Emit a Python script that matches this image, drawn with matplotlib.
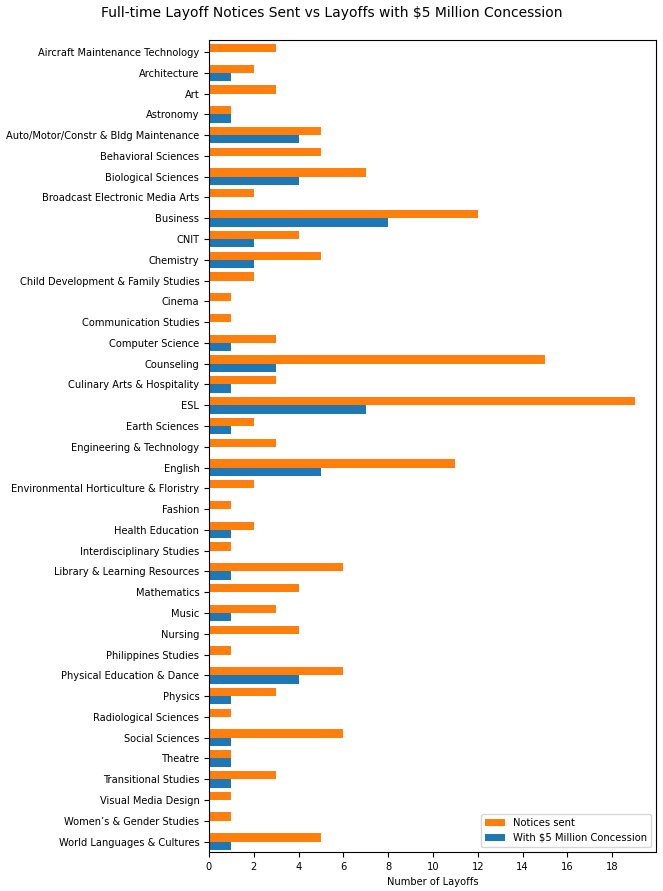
import numpy as np
import matplotlib
matplotlib.use("Agg")
import matplotlib.pyplot as plt

departments = [
    "Aircraft Maintenance Technology", "Architecture", "Art", "Astronomy",
    "Auto/Motor/Constr & Bldg Maintenance", "Behavioral Sciences",
    "Biological Sciences", "Broadcast Electronic Media Arts", "Business",
    "CNIT", "Chemistry", "Child Development & Family Studies", "Cinema",
    "Communication Studies", "Computer Science", "Counseling",
    "Culinary Arts & Hospitality", "ESL", "Earth Sciences",
    "Engineering & Technology", "English",
    "Environmental Horticulture & Floristry", "Fashion", "Health Education",
    "Interdisciplinary Studies", "Library & Learning Resources",
    "Mathematics", "Music", "Nursing", "Philippines Studies",
    "Physical Education & Dance", "Physics", "Radiological Sciences",
    "Social Sciences", "Theatre", "Transitional Studies",
    "Visual Media Design", "Women\u2019s & Gender Studies",
    "World Languages & Cultures",
]

notices_sent = [3, 2, 3, 1, 5, 5, 7, 2, 12, 4, 5, 2, 1, 1, 3, 15, 3, 19, 2,
                3, 11, 2, 1, 2, 1, 6, 4, 3, 4, 1, 6, 3, 1, 6, 1, 3, 1, 1, 5]

with_concession = [0, 1, 0, 1, 4, 0, 4, 0, 8, 2, 2, 0, 0, 0, 1, 3, 1, 7, 1,
                   0, 5, 0, 0, 1, 0, 1, 0, 1, 0, 0, 4, 1, 0, 1, 1, 1, 0, 0, 1]

y = np.arange(len(departments))
h = 0.4

fig = plt.figure(figsize=(6.63, 8.91), dpi=100)
ax = fig.add_axes([0.3152, 0.0438, 0.6742, 0.9113])

ax.barh(y - h / 2, notices_sent, height=h, color="#ff7f0e", label="Notices sent")
ax.barh(y + h / 2, with_concession, height=h, color="#1f77b4",
        label="With $5 Million Concession")

ax.set_yticks(y)
ax.set_yticklabels(departments, fontsize=7.1)
ax.set_ylim(len(departments) - 0.5, -0.58)
ax.set_xticks(range(0, 20, 2))
ax.tick_params(axis="x", labelsize=7.1)
ax.set_xlabel("Number of Layoffs", fontsize=7.1)
ax.legend(loc="lower right", fontsize=7.2)
fig.suptitle("Full-time Layoff Notices Sent vs Layoffs with $5 Million Concession",
             fontsize=10, y=0.993)

fig.savefig("out.png", dpi=100)
